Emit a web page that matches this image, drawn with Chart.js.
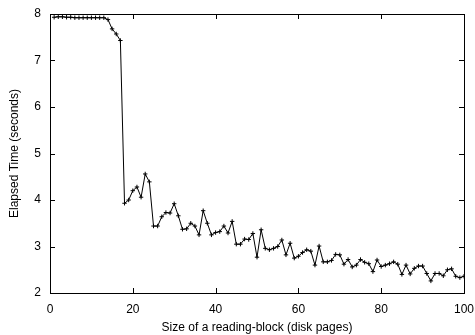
<!DOCTYPE html>
<html>
<head>
<meta charset="utf-8">
<script src="https://cdn.jsdelivr.net/npm/chart.js@4.4.0/dist/chart.umd.min.js"></script>
<style>
  body { margin: 0; background: #fff; }
  #wrap { width: 475px; height: 335px; }
</style>
</head>
<body>
<div id="wrap"><canvas id="myChart" width="475" height="335"></canvas></div>
<script>
// block sizes (disk pages)
let blockSizes = [1,2,3,4,5,6,7,8,9,10,11,12,13,14,15,16,17,18,19,20,
  21,22,23,24,25,26,27,28,29,30,31,32,33,34,35,36,37,38,39,40,
  41,42,43,44,45,46,47,48,49,50,51,52,53,54,55,56,57,58,59,60,
  61,62,63,64,65,66,67,68,69,70,71,72,73,74,75,76,77,78,79,80,
  81,82,83,84,85,86,87,88,89,90,91,92,93,94,95,96,97,98,99,100];
// elapsed time (seconds)
let elapsed = [7.93,7.94,7.94,7.93,7.93,7.92,7.92,7.92,7.92,7.92,
  7.92,7.92,7.92,7.88,7.68,7.57,7.43,3.93,4.00,4.20,
  4.28,4.06,4.56,4.39,3.44,3.44,3.64,3.73,3.72,3.92,
  3.66,3.37,3.38,3.50,3.44,3.25,3.77,3.50,3.25,3.30,
  3.32,3.44,3.29,3.54,3.05,3.05,3.16,3.15,3.28,2.77,
  3.36,2.96,2.93,2.96,3.00,3.14,2.82,3.07,2.75,2.79,
  2.87,2.93,2.90,2.60,3.01,2.67,2.67,2.70,2.83,2.82,
  2.62,2.72,2.56,2.60,2.72,2.66,2.63,2.46,2.71,2.57,
  2.60,2.63,2.67,2.62,2.40,2.60,2.41,2.53,2.58,2.58,
  2.42,2.26,2.42,2.42,2.37,2.50,2.52,2.36,2.33,2.36];
let xTicks = [0,20,40,60,80,100];
let yTicks = [2,3,4,5,6,7,8];

let points = blockSizes.map((x, i) => ({x: x, y: elapsed[i]}));

// gnuplot style box with inward ticks on all four sides
let boxPlugin = {
  id: 'box',
  afterDraw(chart) {
    let ctx = chart.ctx;
    let a = chart.chartArea;
    let xs = chart.scales.x, ys = chart.scales.y;
    ctx.save();
    ctx.strokeStyle = '#000';
    ctx.lineWidth = 1;
    ctx.strokeRect(Math.round(a.left) + 0.5, Math.round(a.top) + 0.5,
      Math.round(a.right - a.left), Math.round(a.bottom - a.top));
    ctx.beginPath();
    xs.ticks.forEach(t => {
      let px = Math.round(xs.getPixelForValue(t.value)) + 0.5;
      ctx.moveTo(px, a.bottom); ctx.lineTo(px, a.bottom - 5);
      ctx.moveTo(px, a.top); ctx.lineTo(px, a.top + 5);
    });
    ys.ticks.forEach(t => {
      let py = Math.round(ys.getPixelForValue(t.value)) + 0.5;
      ctx.moveTo(a.left, py); ctx.lineTo(a.left + 5, py);
      ctx.moveTo(a.right, py); ctx.lineTo(a.right - 5, py);
    });
    ctx.stroke();
    ctx.restore();
  }
};

let font = {family: 'Liberation Sans, Arial, sans-serif', size: 12};

let ctx = document.getElementById('myChart');
let myChart = new Chart(ctx, {
  type: 'scatter',
  data: {
    datasets: [{
      data: points,
      showLine: true,
      borderColor: '#000',
      borderWidth: 1,
      pointStyle: 'cross',
      pointRadius: 2.2,
      pointBorderWidth: 1,
      pointBorderColor: '#000',
      pointBackgroundColor: '#000',
      tension: 0
    }]
  },
  options: {
    responsive: false,
    animation: false,
    layout: {padding: {left: 0, right: 11, top: 14, bottom: 0}},
    plugins: {legend: {display: false}, tooltip: {enabled: false}},
    scales: {
      x: {
        type: 'linear',
        min: 0, max: 100,
        afterBuildTicks: s => { s.ticks = xTicks.map(v => ({value: v})); },
        afterFit: s => { s.height = 42; s.paddingLeft = 0; s.paddingRight = 0; },
        grid: {display: false, drawTicks: false},
        border: {display: false},
        ticks: {color: '#000', font: font, padding: 9, maxRotation: 0},
        title: {display: true, text: 'Size of a reading-block (disk pages)', color: '#000', font: font, padding: {top: 0, bottom: 0}}
      },
      y: {
        type: 'linear',
        min: 2, max: 8,
        afterBuildTicks: s => { s.ticks = yTicks.map(v => ({value: v})); },
        afterFit: s => { s.width = 50; s.paddingTop = 0; s.paddingBottom = 0; },
        grid: {display: false, drawTicks: false},
        border: {display: false},
        ticks: {color: '#000', font: font, padding: 9},
        title: {display: true, text: 'Elapsed Time (seconds)', color: '#000', font: font, padding: {top: 7, bottom: 0}}
      }
    }
  },
  plugins: [boxPlugin]
});
</script>
</body>
</html>
